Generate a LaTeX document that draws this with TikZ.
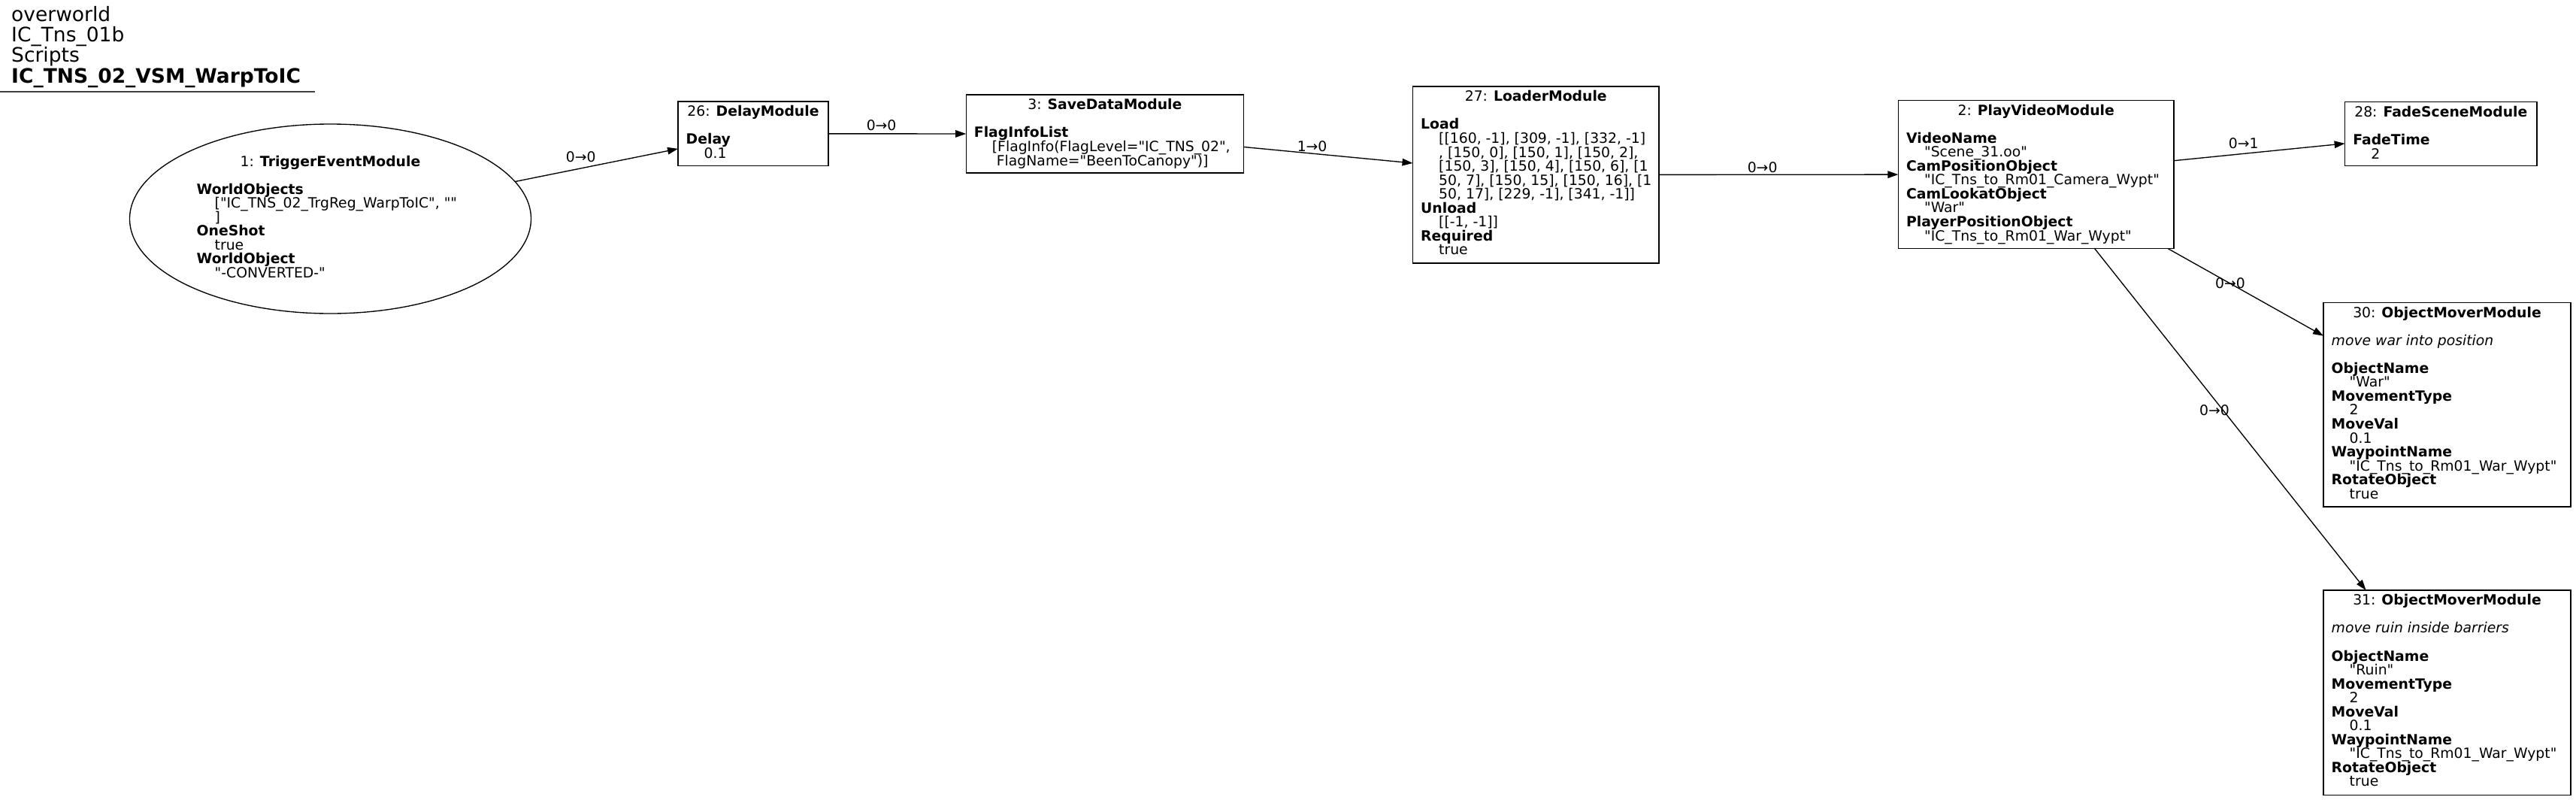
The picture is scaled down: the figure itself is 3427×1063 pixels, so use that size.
\documentclass[tikz,border=0pt]{standalone}
\usepackage{fontspec}
\setmainfont{DejaVu Sans}[Ligatures=TeXOff]
\usetikzlibrary{arrows.meta,shapes.geometric}
\newcommand{\qk}[1]{\hbox{\bfseries #1}}
\newcommand{\qv}[1]{\hbox{\hspace{24pt}#1}}
\newcommand{\qn}[1]{\hbox{#1}}
\newcommand{\nbody}[1]{\vtop{\fontsize{18.8}{18.55}\selectfont\lineskiplimit=-100pt\lineskip=0pt #1}}
\tikzset{
  box/.style={draw, line width=1.35pt, rectangle, inner sep=0pt, outer sep=0pt},
  ebox/.style={draw, line width=1.35pt, ellipse, inner sep=0pt, outer sep=0pt},
  edge/.style={line width=1.35pt, -{Triangle[length=14pt,width=9.5pt]}},
  lbl/.style={inner sep=0pt, font=\fontsize{18.8}{18.55}\selectfont},
  ttl/.style={inner sep=0pt, anchor=base, font=\fontsize{18.8}{18.55}\selectfont},
  txt/.style={inner sep=0pt, anchor=base west},
}
\begin{document}
\begin{tikzpicture}[x=1pt,y=-1pt]
\useasboundingbox[fill=white] (0,0) rectangle (3427,1063);

% header
\node[txt] (hdr) at (15,28.3) {\vtop{\fontsize{26.5}{27.3}\selectfont\lineskiplimit=-100pt\lineskip=0pt
  \hbox{overworld}\hbox{IC\_Tns\_01b}\hbox{Scripts}\hbox{\bfseries IC\_TNS\_02\_VSM\_WarpToIC}}};
\coordinate (ulA) at (0,122);
\coordinate (ulB) at (419,122);
\draw[line width=1.5pt, black!75] (ulA) -- (ulB);

% 1: TriggerEventModule
\node[ebox, minimum width=534pt, minimum height=252pt] (n1) at (439.5,291) {};
\node[ttl] (n1t) at (439.5,221.5) {1: \textbf{TriggerEventModule}};
\node[txt] (n1b) at (261.5,258.2) {\nbody{\qk{WorldObjects}\qv{["IC\_TNS\_02\_TrgReg\_WarpToIC", ""}\qv{]}\qk{OneShot}\qv{true}\qk{WorldObject}\qv{"-CONVERTED-"}}};

% 26: DelayModule
\node[box, minimum width=200pt, minimum height=85.7pt] (n26) at (1002,177.85) {};
\node[ttl] (n26t) at (1002,154.8) {26: \textbf{DelayModule}};
\node[txt] (n26b) at (912.5,191.9) {\nbody{\qk{Delay}\qv{0.1}}};

% 3: SaveDataModule
\node[box, minimum width=369.3pt, minimum height=104pt] (n3) at (1469.85,178) {};
\node[ttl] (n3t) at (1469.85,145.8) {3: \textbf{SaveDataModule}};
\node[txt] (n3b) at (1295.7,182.9) {\nbody{\qk{FlagInfoList}\qv{[FlagInfo(FlagLevel="IC\_TNS\_02",}\hbox{\hspace{30pt}FlagName="BeenToCanopy")]}}};

% 27: LoaderModule
\node[box, minimum width=327.5pt, minimum height=235pt] (n27) at (2043.25,232.5) {};
\node[ttl] (n27t) at (2043.25,134.8) {27: \textbf{LoaderModule}};
\node[txt] (n27b) at (1890,171.9) {\nbody{\qk{Load}\qv{[[160, -1], [309, -1], [332, -1]}\qv{, [150, 0], [150, 1], [150, 2],}\qv{[150, 3], [150, 4], [150, 6], [1}\qv{50, 7], [150, 15], [150, 16], [1}\qv{50, 17], [229, -1], [341, -1]]}\qk{Unload}\qv{[[-1, -1]]}\qk{Required}\qv{true}}};

% 2: PlayVideoModule
\node[box, minimum width=366.6pt, minimum height=197.4pt] (n2) at (2708.7,232) {};
\node[ttl] (n2t) at (2708.7,153.1) {2: \textbf{PlayVideoModule}};
\node[txt] (n2b) at (2535.9,190.2) {\nbody{\qk{VideoName}\qv{"Scene\_31.oo"}\qk{CamPositionObject}\qv{"IC\_Tns\_to\_Rm01\_Camera\_Wypt"}\qk{CamLookatObject}\qv{"War"}\qk{PlayerPositionObject}\qv{"IC\_Tns\_to\_Rm01\_War\_Wypt"}}};

% 28: FadeSceneModule
\node[box, minimum width=255.4pt, minimum height=85pt] (n28) at (3247.3,178.2) {};
\node[ttl] (n28t) at (3247.3,155.5) {28: \textbf{FadeSceneModule}};
\node[txt] (n28b) at (3130.1,192.6) {\nbody{\qk{FadeTime}\qv{2}}};

% 30: ObjectMoverModule
\node[box, minimum width=329pt, minimum height=271.7pt] (n30) at (3255.5,538.15) {};
\node[ttl] (n30t) at (3255.5,422.1) {30: \textbf{ObjectMoverModule}};
\node[txt] (n30b) at (3101.5,459.2) {\nbody{\qn{\itshape move war into position}\qn{}\qk{ObjectName}\qv{"War"}\qk{MovementType}\qv{2}\qk{MoveVal}\qv{0.1}\qk{WaypointName}\qv{"IC\_Tns\_to\_Rm01\_War\_Wypt"}\qk{RotateObject}\qv{true}}};

% 31: ObjectMoverModule
\node[box, minimum width=329pt, minimum height=272.3pt] (n31) at (3255.5,921.15) {};
\node[ttl] (n31t) at (3255.5,804.8) {31: \textbf{ObjectMoverModule}};
\node[txt] (n31b) at (3101.5,841.9) {\nbody{\qn{\itshape move ruin inside barriers}\qn{}\qk{ObjectName}\qv{"Ruin"}\qk{MovementType}\qv{2}\qk{MoveVal}\qv{0.1}\qk{WaypointName}\qv{"IC\_Tns\_to\_Rm01\_War\_Wypt"}\qk{RotateObject}\qv{true}}};

% edges
\draw[edge] (n1) -- (n26);
\draw[edge] (n26) -- (n3);
\draw[edge] (n3) -- (n27);
\draw[edge] (n27) -- (n2);
\draw[edge] (n2) -- (n28);
\draw[edge] (n2) -- (n30);
\draw[edge] (n2) -- (n31);

% edge labels
\node[lbl] (e1) at (772.7,208.3) {0→0};
\node[lbl] (e2) at (1172.6,166.7) {0→0};
\node[lbl] (e3) at (1745.6,195) {1→0};
\node[lbl] (e4) at (2344.6,222.7) {0→0};
\node[lbl] (e5) at (2984.8,190.7) {0→1};
\node[lbl] (e6) at (2967,376.7) {0→0};
\node[lbl] (e7) at (2946,545.7) {0→0};
\end{tikzpicture}
\end{document}
